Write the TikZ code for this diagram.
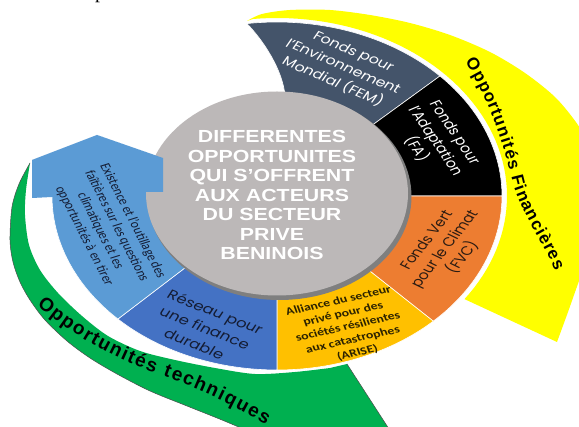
\documentclass[tikz,border=0pt]{standalone}
\usepackage{fontspec}
\setmainfont{Liberation Sans}
\newfontfamily\poppinsfont{Poppins}
\newfontfamily\carlitofont{Carlito}
\newfontfamily\timesfont{Liberation Serif}
\usetikzlibrary{decorations.text}

\definecolor{slate}{HTML}{44546A}
\definecolor{fvcorange}{HTML}{ED7D31}
\definecolor{arisegold}{HTML}{FFC000}
\definecolor{reseaublue}{HTML}{4472C4}
\definecolor{lightblue}{HTML}{5B9BD5}
\definecolor{discgrey}{HTML}{BCB8B8}
\definecolor{discrim}{HTML}{7F7F7F}
\definecolor{bandyellow}{HTML}{FFFF00}
\definecolor{bandgreen}{HTML}{00B050}
\definecolor{navytext}{HTML}{141C33}
\definecolor{browntext}{HTML}{2A1B12}
\definecolor{arisetext}{HTML}{2B2200}

% ring geometry (pixel units, y downwards)
\def\cx{277}\def\cy{196}
\def\rox{225}\def\roy{174}
\def\rix{128}\def\riy{100}

\begin{document}
\begin{tikzpicture}[x=1pt, y=-1pt,
  seg/.style={draw=white, line width=0.6pt, line join=round},
  ringtext/.style={align=center, inner sep=0pt, xscale=1.28}]
\useasboundingbox (0,0) rectangle (579,427);
\clip (0,0) rectangle (579,427);
\fill[white] (0,0) rectangle (579,427);

% caption fragment above the figure
\node[font=\timesfont\fontsize{20}{20}\selectfont, anchor=base west, inner sep=0pt] (capfrag) at (95,-1.5) {p};

% outer band: financial opportunities
\fill[bandyellow] plot[smooth] coordinates {(247,21) (262,14) (290,10) (330,10) (370,15) (410,23) (450,35) (490,52) (525,73) (556,98) (580,128) (596,160) (603,195) (600,225) (590,252) (579,281) (568,312) (557,342)}
  -- plot[domain=35.4:-96, samples=60] ({\cx+230*cos(\x)},{\cy+178*sin(\x)}) -- cycle;

% outer band: technical opportunities
\fill[bandgreen] plot[smooth] coordinates {(30,163) (19,184) (12,207) (10,240) (13,262) (20,282) (30,300) (45,320) (67,341) (90,358) (117,374) (150,391) (187,406) (222,420) (250,432) (280,446)}
  -- (400,446) -- (347,364)
  -- plot[smooth] coordinates {(330,368) (295,372) (255,374) (215,368) (175,360) (140,351) (108,336) (82,316) (58,293) (40,270) (29,245) (25,215) (26,190) (30,163)} -- cycle;
\draw[black!70, line width=0.5pt] plot[smooth] coordinates {(30,163) (19,184) (12,207) (10,240) (13,262) (20,282) (30,300) (45,320) (67,341) (90,358) (117,374) (150,391) (187,406) (222,420) (250,432) (280,446)};
\draw[black!70, line width=0.5pt] (400,446) -- (347,364);

% ring segments
\fill[slate, seg] plot[domain=-97.7:-43.6, samples=40] ({\cx+\rox*cos(\x)},{\cy+\roy*sin(\x)})
  -- plot[domain=-43.6:-86.4, samples=40] ({\cx+\rix*cos(\x)},{\cy+\riy*sin(\x)})
  .. controls (283,70) and (263,40) .. (246.9,23.6) -- cycle;
\fill[black, seg] plot[domain=-43.6:0, samples=40] ({\cx+\rox*cos(\x)},{\cy+\roy*sin(\x)})
  -- plot[domain=0:-43.6, samples=40] ({\cx+\rix*cos(\x)},{\cy+\riy*sin(\x)}) -- cycle;
\fill[fvcorange, seg] plot[domain=0:46, samples=40] ({\cx+\rox*cos(\x)},{\cy+\roy*sin(\x)})
  -- plot[domain=46:0, samples=40] ({\cx+\rix*cos(\x)},{\cy+\riy*sin(\x)}) -- cycle;
\fill[arisegold, seg] plot[domain=46:90, samples=40] ({\cx+\rox*cos(\x)},{\cy+\roy*sin(\x)})
  -- plot[domain=90:46, samples=40] ({\cx+\rix*cos(\x)},{\cy+\riy*sin(\x)}) -- cycle;
\fill[reseaublue, seg] plot[domain=90:135, samples=40] ({\cx+\rox*cos(\x)},{\cy+\roy*sin(\x)})
  -- plot[domain=135:90, samples=40] ({\cx+\rix*cos(\x)},{\cy+\riy*sin(\x)}) -- cycle;
\fill[lightblue, seg] plot[domain=135:180, samples=40] ({\cx+\rox*cos(\x)},{\cy+\roy*sin(\x)})
  -- (32,198) -- (32,160) -- (97,135) -- (163,158) -- (163,192)
  -- plot[domain=180:135, samples=40] ({\cx+\rix*cos(\x)},{\cy+\riy*sin(\x)}) -- cycle;

% central disc with its shadow rim
\fill[discrim] (279.5,196.5) ellipse[x radius=132, y radius=103.5];
\fill[discgrey] (277,193.5) ellipse[x radius=131, y radius=102];

% arrow head lies over the disc
\fill[lightblue] (52,197) -- (32,198) -- (32,160) -- (97,135) -- (163,158) -- (163,192) -- (145,192) -- (145,197) -- cycle;

% labels
\node[font=\bfseries\fontsize{17.5}{19.5}\selectfont, text=white, align=center, inner sep=0pt, xscale=1.22] (centre) at (272,195)
  {DIFFERENTES\\OPPORTUNITES\\QUI S’OFFRENT\\AUX ACTEURS\\DU SECTEUR\\PRIVE\\BENINOIS};
\node[ringtext, rotate=-28.6, font=\poppinsfont\fontsize{12.5}{17}\selectfont, text=white] (fem) at (343,67)
  {Fonds pour\\l’Environnement\\Mondial (FEM)};
\node[ringtext, rotate=-61.7, font=\poppinsfont\fontsize{12.5}{17}\selectfont, text=white] (fa) at (435,141)
  {Fonds pour\\l’Adaptation\\(FA)};
\node[ringtext, rotate=58.3, font=\poppinsfont\fontsize{12.5}{16.5}\selectfont, text=browntext] (fvc) at (445,249)
  {Fonds Vert\\pour le Climat\\(FVC)};
\node[ringtext, rotate=16, font=\carlitofont\bfseries\fontsize{10.8}{13.5}\selectfont, text=arisetext] (arise) at (348,327)
  {Alliance du secteur\\privé pour des\\sociétés résilientes\\aux catastrophes\\(ARISE)};
\node[ringtext, rotate=-27, font=\poppinsfont\fontsize{13}{18}\selectfont, text=navytext] (reseau) at (205,328)
  {Réseau pour\\une finance\\durable};
\node[ringtext, rotate=-68.2, font=\carlitofont\fontsize{11.5}{13.6}\selectfont, text=navytext] (existence) at (108.5,228.5)
  {Existence et l’outillage des\\faîtières sur les questions\\climatiques et les\\opportunités à en tirer};

% band titles along their curves
\path[decorate, decoration={text along path, text align={fit to path},
  text={|\bfseries\fontsize{17}{17}\selectfont|Opportunités Financières}}]
  (465,62) .. controls (490,100) and (505,150) .. (514,187) .. controls (525,220) and (545,245) .. (555,271);
\path[decorate, decoration={text along path, text align={fit to path},
  text={|\bfseries\fontsize{19}{19}\selectfont|Opportunités techniques}}]
  (37,305) .. controls (75,337) and (113,358) .. (153,372) .. controls (195,387) and (230,403) .. (266,425);
\end{tikzpicture}
\end{document}
